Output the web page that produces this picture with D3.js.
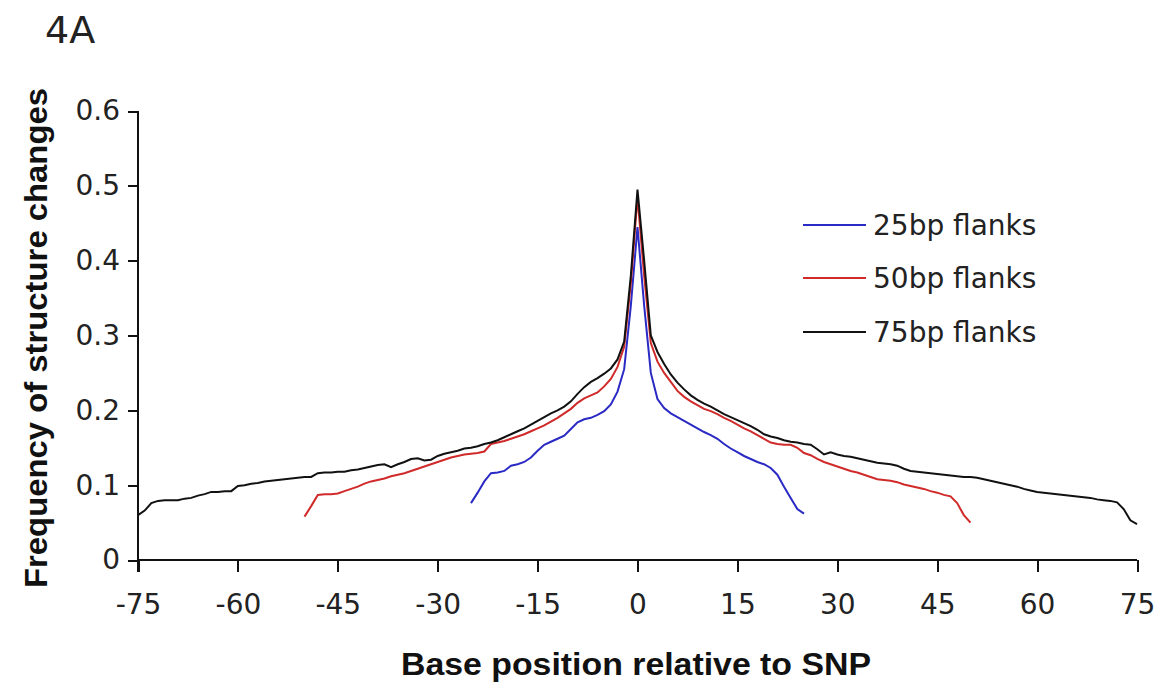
<!DOCTYPE html>
<html>
<head>
<meta charset="utf-8">
<script src="https://cdn.jsdelivr.net/npm/d3@7"></script>
<style>
    body { margin: 0; background: #fff; }
    svg { display: block; }
    .axis path, .axis line { stroke: #111; stroke-width: 2px; shape-rendering: crispEdges; }
    .axis text { font-family: "DejaVu Sans", sans-serif; font-size: 28px; fill: #222; }
</style>
</head>
<body>
<div id="chart"></div>
<script>
// ---- data ----
const xTicks = [-75, -60, -45, -30, -15, 0, 15, 30, 45, 60, 75];
const yTicks = [0, 0.1, 0.2, 0.3, 0.4, 0.5, 0.6];

const seriesNames = ["25bp flanks", "50bp flanks", "75bp flanks"];
const seriesColors = ["#2a2ac4", "#d02a2a", "#111111"];

// 25bp flanks, positions -25..25
const flank25 = [
    0.076, 0.090, 0.105, 0.116, 0.117, 0.119, 0.126, 0.128, 0.131, 0.137,
    0.146, 0.154, 0.158, 0.162, 0.166, 0.175, 0.184, 0.188, 0.190, 0.194,
    0.199, 0.208, 0.225, 0.255, 0.340, 0.445, 0.340, 0.250, 0.215, 0.203,
    0.196, 0.191, 0.186, 0.181, 0.176, 0.171, 0.167, 0.162, 0.155, 0.149,
    0.144, 0.139, 0.135, 0.131, 0.128, 0.123, 0.114, 0.098, 0.083, 0.068,
    0.062
];

// 50bp flanks, positions -50..50
const flank50 = [
    0.058, 0.072, 0.087, 0.088, 0.088, 0.089, 0.092, 0.095, 0.098, 0.102,
    0.105, 0.107, 0.109, 0.112, 0.114, 0.116, 0.119, 0.122, 0.125, 0.128,
    0.131, 0.134, 0.137, 0.139, 0.141, 0.142, 0.143, 0.145, 0.155, 0.157,
    0.159, 0.162, 0.165, 0.168, 0.172, 0.176, 0.180, 0.185, 0.190, 0.196,
    0.202, 0.210, 0.216, 0.220, 0.224, 0.232, 0.242, 0.258, 0.285, 0.370,
    0.485, 0.380, 0.290, 0.265, 0.250, 0.238, 0.226, 0.218, 0.212, 0.207,
    0.202, 0.199, 0.195, 0.190, 0.186, 0.181, 0.176, 0.172, 0.167, 0.162,
    0.157, 0.155, 0.154, 0.154, 0.150, 0.143, 0.140, 0.135, 0.131, 0.128,
    0.125, 0.122, 0.119, 0.117, 0.114, 0.111, 0.108, 0.107, 0.106, 0.104,
    0.101, 0.099, 0.097, 0.095, 0.092, 0.090, 0.087, 0.085, 0.076, 0.060,
    0.050
];

// 75bp flanks, positions -75..75
const flank75 = [
    0.060, 0.066, 0.076, 0.079, 0.080, 0.080, 0.080, 0.082, 0.083, 0.086,
    0.088, 0.091, 0.091, 0.092, 0.092, 0.099, 0.100, 0.102, 0.103, 0.105,
    0.106, 0.107, 0.108, 0.109, 0.110, 0.111, 0.111, 0.116, 0.117, 0.117,
    0.118, 0.118, 0.120, 0.121, 0.123, 0.125, 0.127, 0.128, 0.124, 0.128,
    0.131, 0.135, 0.136, 0.133, 0.134, 0.139, 0.142, 0.144, 0.146, 0.149,
    0.150, 0.152, 0.155, 0.157, 0.160, 0.164, 0.168, 0.172, 0.176, 0.181,
    0.186, 0.191, 0.196, 0.200, 0.205, 0.212, 0.222, 0.231, 0.238, 0.243,
    0.249, 0.256, 0.268, 0.292, 0.380, 0.495, 0.400, 0.300, 0.278, 0.262,
    0.248, 0.237, 0.228, 0.220, 0.214, 0.209, 0.205, 0.200, 0.195, 0.191,
    0.187, 0.183, 0.179, 0.174, 0.168, 0.165, 0.163, 0.160, 0.158, 0.157,
    0.155, 0.154, 0.148, 0.141, 0.144, 0.141, 0.139, 0.138, 0.136, 0.134,
    0.132, 0.130, 0.129, 0.128, 0.126, 0.122, 0.119, 0.118, 0.117, 0.116,
    0.115, 0.114, 0.113, 0.112, 0.111, 0.111, 0.110, 0.108, 0.106, 0.104,
    0.102, 0.100, 0.098, 0.095, 0.093, 0.091, 0.090, 0.089, 0.088, 0.087,
    0.086, 0.085, 0.084, 0.083, 0.081, 0.080, 0.079, 0.077, 0.068, 0.053,
    0.048
];

const seriesValues = [flank25, flank50, flank75];
const seriesStart = [-25, -50, -75];

// ---- drawing ----
const width = 1155, height = 687;

const svg = d3.select("#chart").append("svg")
    .attr("width", width)
    .attr("height", height);

const x = d3.scaleLinear().domain([-75, 75]).range([138, 1137]);
const y = d3.scaleLinear().domain([0, 0.6]).range([560, 111]);

// panel label
svg.append("text")
    .attr("x", 45)
    .attr("y", 43)
    .style("font-family", "DejaVu Sans, sans-serif")
    .style("font-size", "38px")
    .style("fill", "#222")
    .text("4A");

// axes (plain hyphen for negatives, like the original)
svg.append("g")
    .attr("class", "axis")
    .attr("transform", `translate(0, ${y(0)})`)
    .call(d3.axisBottom(x).tickValues(xTicks).tickSize(12).tickPadding(22).tickSizeOuter(0)
        .tickFormat(d => String(d)))
    .call(g => g.select(".domain").attr("d", `M${x(-75)},0H${x(75)}`));

svg.append("g")
    .attr("class", "axis")
    .attr("transform", `translate(${x(-75)}, 0)`)
    .call(d3.axisLeft(y).tickValues(yTicks).tickSize(10).tickPadding(8).tickSizeOuter(0)
        .tickFormat(d => d === 0 ? "0" : d3.format(".1f")(d)))
    .call(g => g.select(".domain").attr("d", `M0,${y(0.6)}V${y(0) + 12}`));

// axis titles
svg.append("text")
    .attr("transform", `translate(47, 338) rotate(-90)`)
    .attr("text-anchor", "middle")
    .attr("textLength", 500)
    .attr("lengthAdjust", "spacingAndGlyphs")
    .style("font-family", "Liberation Sans, Arial, sans-serif")
    .style("font-weight", "bold")
    .style("font-size", "32px")
    .style("fill", "#111")
    .text("Frequency of structure changes");

svg.append("text")
    .attr("x", 636)
    .attr("y", 675)
    .attr("text-anchor", "middle")
    .attr("textLength", 470)
    .attr("lengthAdjust", "spacingAndGlyphs")
    .style("font-family", "Liberation Sans, Arial, sans-serif")
    .style("font-weight", "bold")
    .style("font-size", "32px")
    .style("fill", "#111")
    .text("Base position relative to SNP");

// lines
const line = d3.line()
    .x(d => x(d.pos))
    .y(d => y(d.value));

seriesValues.forEach((vals, i) => {
    const data = vals.map((v, k) => ({pos: seriesStart[i] + k, value: v}));
    svg.append("path")
        .datum(data)
        .attr("fill", "none")
        .attr("stroke", seriesColors[i])
        .attr("stroke-width", 2)
        .attr("d", line);
});

// legend
const legend = svg.append("g").attr("class", "legend");
const legendY = [225, 278, 332];
seriesNames.forEach((name, i) => {
    legend.append("line")
        .attr("x1", 803).attr("x2", 866)
        .attr("y1", legendY[i]).attr("y2", legendY[i])
        .attr("stroke", seriesColors[i])
        .attr("stroke-width", 2);
    legend.append("text")
        .attr("x", 873)
        .attr("y", legendY[i])
        .attr("dy", "0.36em")
        .style("font-family", "DejaVu Sans, sans-serif")
        .style("font-size", "28px")
        .style("fill", "#222")
        .text(name);
});
</script>
</body>
</html>
